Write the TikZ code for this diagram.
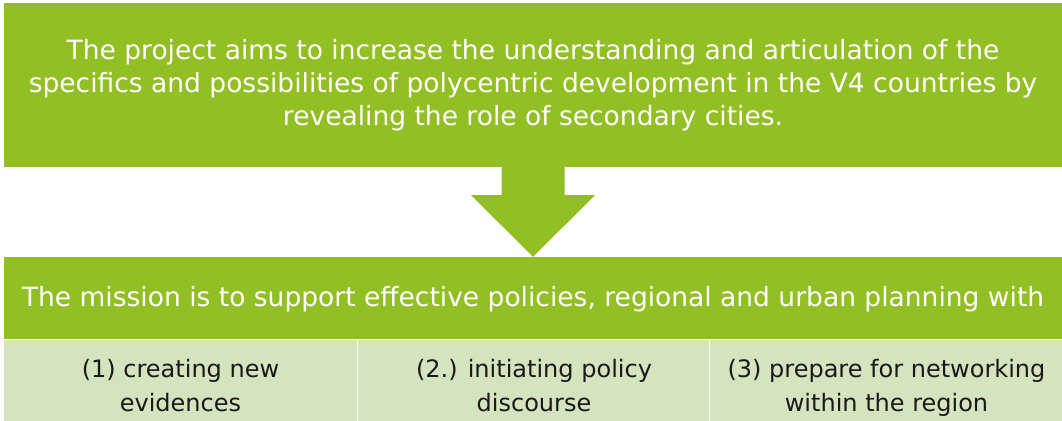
\documentclass[tikz,border=0pt]{standalone}
\usepackage{fontspec}
\setmainfont{DejaVu Sans}
\usetikzlibrary{calc}
\definecolor{vgreen}{RGB}{146,192,36}
\definecolor{vlight}{RGB}{214,227,191}
\newcommand{\cellfirst}{\rule{0pt}{37.2pt}}
\tikzset{
  greenbox/.style={fill=vgreen,draw=none,inner sep=0pt,text=white,align=center,
    font=\fontsize{26.5}{33}\selectfont},
  cellbox/.style={fill=vlight,draw=white,line width=0.8pt,inner sep=0pt,text=black!90,align=center,
    minimum width=353.5pt,minimum height=79pt,font=\fontsize{24}{34}\selectfont},
  blockarrow/.style={fill=vgreen,draw=none}
}
\begin{document}
\begin{tikzpicture}[x=1pt,y=-1pt]
\useasboundingbox (0,0) rectangle (1062,420);
\fill[white] (0,0) rectangle (1062,420);
\node[greenbox,minimum width=1058pt,minimum height=164pt] (top) at (533,85)
  {The project aims to increase the understanding and articulation of the\\
   specifics and possibilities of polycentric development in the V4 countries by\\
   revealing the role of secondary cities.};
\node[greenbox,minimum width=1058pt,minimum height=84pt] (mission) at (533,299)
  {The mission is to support effective policies, regional and urban planning with};
\node[cellbox] (c1) at (180.5,380.5) {\cellfirst(1) creating new\\evidences\strut};
\node[cellbox] (c2) at (534,380.5) {\cellfirst(2.) initiating policy\\discourse\strut};
\node[cellbox] (c3) at (886.5,380.5) {\cellfirst(3) prepare for networking\\within the region\strut};
\fill[blockarrow] ($(top.south)+(-31.5,0)$) -- ($(top.south)+(31.5,0)$)
  -- ($(top.south)+(31.5,28)$) -- ($(top.south)+(62,28)$)
  -- (mission.north) -- ($(top.south)+(-62,28)$)
  -- ($(top.south)+(-31.5,28)$) -- cycle;
\end{tikzpicture}
\end{document}
